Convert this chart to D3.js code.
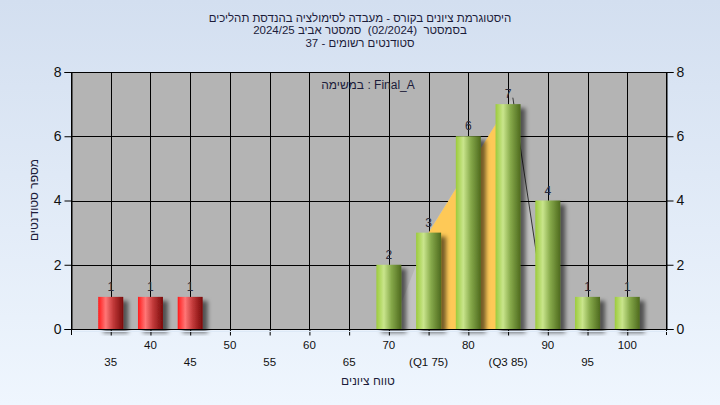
<!DOCTYPE html>
<html><head><meta charset="utf-8">
<script src="https://cdn.jsdelivr.net/npm/d3@7"></script>
<style>body{margin:0;padding:0;overflow:hidden}svg{display:block}text{font-family:"Liberation Sans",Arial,"DejaVu Sans",sans-serif}</style>
</head><body>
<svg id="c" width="720" height="405"></svg>
<script>
const titleLines = ["היסטוגרמת ציונים בקורס - מעבדה לסימולציה בהנדסת תהליכים","בסמסטר  (02/2024)  סמסטר אביב 2024/25","סטודנטים רשומים - 37"];
const taskLabel = "במשימה : Final_A";
const xTitle = "טווח ציונים";
const yTitle = "מספר סטודנטים";
const grades = [35,40,45,50,55,60,65,70,75,80,85,90,95,100];
const counts = [1,1,1,0,0,0,0,2,3,6,7,4,1,1];
const tickLabels = ["35","40","45","50","55","60","65","70","(Q1 75)","80","(Q3 85)","90","95","100"];
const yTicks = [0,2,4,6,8];
const passGrade = 55;
const quartiles = [{g:75,v:3},{g:85,v:7}];
const curveArea = [{g:70.3,v:0},{g:75.2,v:3.1},{g:85,v:7},{g:85.6,v:7.2},{g:88.6,v:2.3},{g:88.6,v:0}];

const svg = d3.select("#c");
const defs = svg.append("defs");
const bg = defs.append("linearGradient").attr("id","bg").attr("x1",0).attr("y1",0).attr("x2",0).attr("y2",1);
bg.append("stop").attr("offset","0%").attr("stop-color","#d3dff0");
bg.append("stop").attr("offset","100%").attr("stop-color","#eff6fe");
function barGrad(id, c0, c1, c2, c3){
  const g = defs.append("linearGradient").attr("id",id).attr("x1",0).attr("y1",0).attr("x2",1).attr("y2",0);
  g.append("stop").attr("offset","0%").attr("stop-color",c0);
  g.append("stop").attr("offset","30%").attr("stop-color",c1);
  g.append("stop").attr("offset","60%").attr("stop-color",c2);
  g.append("stop").attr("offset","100%").attr("stop-color",c3);
}
barGrad("red","#ff1a1a","#ff7676","#c23a3a","#7a0a0a");
barGrad("green","#9ccb3c","#c9e58c","#86a94a","#4e6a1e");
const f = defs.append("filter").attr("id","sh").attr("x","-20%").attr("y","-20%").attr("width","160%").attr("height","140%");
f.append("feDropShadow").attr("dx",5).attr("dy",4).attr("stdDeviation",2.2).attr("flood-color","#000").attr("flood-opacity",0.55);

svg.append("rect").attr("width",720).attr("height",405).attr("fill","url(#bg)");

const L=71,R=667,T=72,B=329;
const x = d3.scaleLinear().domain([30,105]).range([L,R]);
const y = d3.scaleLinear().domain([0,8]).range([B,T]);
const bw = 25;

svg.append("rect").attr("x",L).attr("y",T).attr("width",R-L).attr("height",B-T).attr("fill","#b4b4b4");

// light area
svg.append("path").datum(curveArea)
  .attr("d", d3.area().x(d=>x(d.g)).y0(B).y1(d=>y(d.v)))
  .attr("fill","#c2c2c2");
svg.append("line").attr("x1",x(85.6)).attr("y1",y(7.2)).attr("x2",x(88.6)).attr("y2",y(2.3)).attr("stroke","#333").attr("stroke-width",1);

// grid
const gg = svg.append("g").attr("stroke","#000").attr("stroke-width",1);
grades.forEach(g=>gg.append("line").attr("x1",Math.round(x(g))+0.5).attr("x2",Math.round(x(g))+0.5).attr("y1",T).attr("y2",B));
[2,4,6].forEach(v=>gg.append("line").attr("x1",L).attr("x2",R).attr("y1",Math.round(y(v))+0.5).attr("y2",Math.round(y(v))+0.5));

// quartile area
svg.append("path").datum(quartiles)
  .attr("d", d3.area().x(d=>x(d.g)).y0(B).y1(d=>y(d.v)))
  .attr("fill","#fec957");

// bars
const data = grades.map((g,i)=>({g, v:counts[i], lab:tickLabels[i]})).filter(d=>d.v>0);
svg.append("g").selectAll("rect").data(data).join("rect")
  .attr("x",d=>x(d.g)-bw/2).attr("y",d=>y(d.v)).attr("width",bw).attr("height",d=>B-y(d.v))
  .attr("fill",d=>d.g<passGrade?"url(#red)":"url(#green)").attr("filter","url(#sh)");
svg.append("g").selectAll("text").data(data).join("text")
  .attr("x",d=>x(d.g)).attr("y",d=>y(d.v)-6).attr("text-anchor","middle")
  .attr("font-size",12).attr("fill","#2a2a3a").text(d=>d.v);

// frame
svg.append("rect").attr("x",L+0.5).attr("y",T+0.5).attr("width",R-L-1).attr("height",B-T).attr("fill","none").attr("stroke","#000");

// axes
const yl = d3.axisLeft(y).tickValues(yTicks).tickSize(7).tickPadding(3);
const yr = d3.axisRight(y).tickValues(yTicks).tickSize(7).tickPadding(3);
const xa = d3.axisBottom(x).tickValues(grades).tickSize(6).tickFormat("");
function style(g){g.select(".domain").attr("stroke","#000");g.selectAll(".tick line").attr("stroke","#000");g.selectAll("text").attr("font-size",14).attr("fill","#111").style("font-family",'"Liberation Sans",Arial,sans-serif');}
svg.append("g").attr("transform",`translate(${L+0.5},0)`).call(yl).call(style);
svg.append("g").attr("transform",`translate(${R-0.5},0)`).call(yr).call(style);
const xg = svg.append("g").attr("transform",`translate(0,${B+0.5})`).call(xa).call(style);
xg.select(".domain").remove();
svg.append("line").attr("x1",L).attr("x2",R).attr("y1",B+0.5).attr("y2",B+0.5).attr("stroke","#000");
svg.append("line").attr("x1",L+0.5).attr("x2",L+0.5).attr("y1",B).attr("y2",B+6).attr("stroke","#000");
svg.append("line").attr("x1",R-0.5).attr("x2",R-0.5).attr("y1",B).attr("y2",B+6).attr("stroke","#000");
svg.append("line").attr("x1",L+2).attr("x2",R).attr("y1",B+2.5).attr("y2",B+2.5).attr("stroke","#dde9f7");

svg.append("g").selectAll("text").data(grades.map((g,i)=>({g,lab:tickLabels[i],i}))).join("text")
  .attr("x",d=>x(d.g)).attr("y",d=>d.i%2===1?349:366).attr("text-anchor","middle")
  .attr("font-size",11.5).attr("fill","#111").text(d=>d.lab);

// titles
svg.append("g").selectAll("text").data(titleLines).join("text")
  .attr("x",360).attr("y",(d,i)=>21.5+i*12.5).attr("text-anchor","middle").attr("direction","rtl")
  .style("white-space","pre")
  .attr("font-size",11.5).attr("fill","#1c1c3a").text(d=>d);
svg.append("text").attr("x",368).attr("y",89).attr("text-anchor","middle").attr("font-size",12).attr("fill","#1c1c3a").text(taskLabel);
svg.append("text").attr("x",368).attr("y",385).attr("text-anchor","middle").attr("direction","rtl").attr("font-size",12).attr("fill","#1c1c3a").text(xTitle);
svg.append("text").attr("transform","translate(38,200) rotate(-90)").attr("text-anchor","middle").attr("direction","rtl").attr("font-size",12).attr("fill","#1c1c3a").text(yTitle);
</script>
</body></html>
